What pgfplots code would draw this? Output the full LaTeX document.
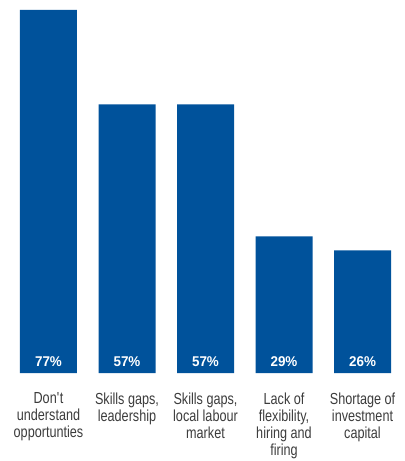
\documentclass[border=0pt]{standalone}
\usepackage{fontspec}
\setmainfont{Liberation Sans}[FakeStretch=0.79]
\newfontfamily\pctfont{Liberation Sans}[FakeStretch=0.95]
\usepackage{pgfplots}
\pgfplotsset{compat=1.18}
\definecolor{barblue}{RGB}{0,82,155}
\definecolor{labgray}{RGB}{60,60,60}
\begin{document}
\begin{tikzpicture}
\begin{axis}[
  name=ax,
  scale only axis,
  width=303pt, height=279.75pt,
  xmin=-0.6178, xmax=4.5287,
  ymin=0, ymax=79.12,
  axis line style={draw=none},
  major tick length=0pt,
  ytick=\empty,
  xtick={0,1,2,3,4},
  xticklabels={{Don\textquotesingle t\\understand\\opportunties},{Skills gaps,\\leadership},{Skills gaps,\\local labour\\market},{Lack of\\flexibility,\\hiring and\\firing},{Shortage of\\investment\\capital}},
  xticklabel style={anchor=north, align=center, inner sep=0pt, yshift=-14.5pt,
    font={\fontsize{12}{12.75}\selectfont}, text=labgray},
  clip=false,
]
\addplot[ybar, bar width=42.75pt, fill=barblue, draw=none] coordinates {(0,77) (1,57) (2,57) (3,29) (4,26)};
\addplot[draw=none, mark=none, nodes near coords, point meta=explicit symbolic,
  every node near coord/.style={anchor=base, yshift=4.7pt, inner sep=0pt, text=white,
    font={\pctfont\bfseries\fontsize{10.6}{12}\selectfont}},
  nodes near coords={\pgfplotspointmeta\%}]
  table[meta=v] {
x y v
0 0 77
1 0 57
2 0 57
3 0 29
4 0 26
};
\end{axis}
\pgfresetboundingbox
\path ([yshift=-66pt]ax.south west) rectangle (ax.north east);
\end{tikzpicture}
\end{document}
